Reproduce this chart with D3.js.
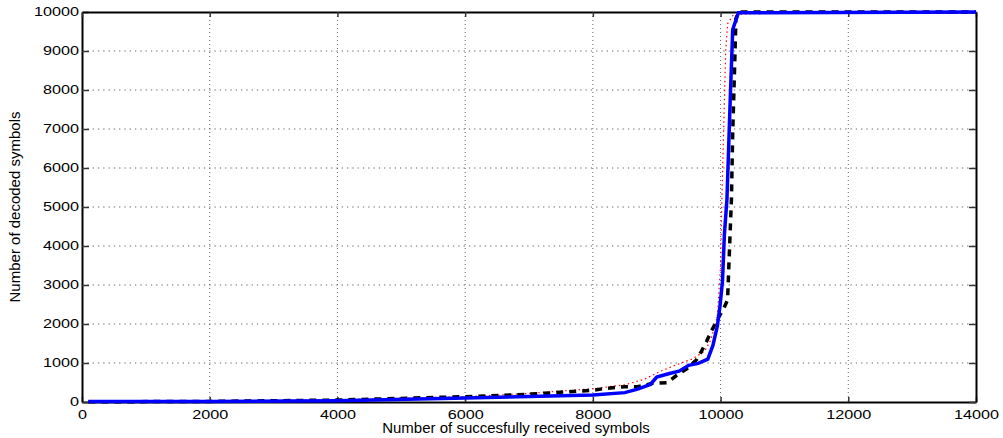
<!DOCTYPE html>
<html>
<head>
<meta charset="utf-8">
<script src="https://cdn.jsdelivr.net/npm/d3@7"></script>
<style>
  body { margin: 0; background: #fff; }
  text { font-family: "Liberation Sans", Arial, Helvetica, sans-serif; fill: #000; }
</style>
</head>
<body>
<script>
// tick values
var xTicks = [0, 2000, 4000, 6000, 8000, 10000, 12000, 14000];
var yTicks = [0, 1000, 2000, 3000, 4000, 5000, 6000, 7000, 8000, 9000, 10000];

// red dotted series
var redX = [100, 2000, 4000, 6000, 7000, 8000, 8500, 8800, 9050, 9300, 9550, 9750, 9850, 9950, 10000, 10020, 10060, 10080, 10110, 10200, 10500, 14000];
var redY = [5, 20, 60, 135, 220, 340, 440, 580, 780, 950, 1100, 1300, 1600, 2200, 3500, 5200, 7700, 9000, 9700, 9930, 9960, 9980];

// black dashed series
var blackX = [100, 2000, 4000, 6000, 7000, 8000, 8200, 8500, 8700, 8940, 9160, 9310, 9470, 9620, 9700, 9780, 9850, 9980, 10050, 10110, 10130, 10170, 10190, 10220, 10240, 10280, 14000];
var blackY = [5, 15, 50, 136, 200, 300, 350, 390, 390, 480, 495, 680, 850, 1077, 1300, 1550, 1800, 2200, 2400, 2620, 3500, 5200, 6900, 8600, 9830, 10000, 10000];

// blue solid series
var blueX = [100, 2000, 4000, 6000, 7000, 8000, 8500, 8700, 8900, 9000, 9200, 9350, 9500, 9650, 9800, 9880, 9950, 9990, 10030, 10060, 10100, 10150, 10190, 10280, 14000];
var blueY = [10, 15, 30, 100, 140, 180, 240, 330, 450, 640, 730, 790, 940, 990, 1100, 1450, 1950, 2450, 3100, 4300, 5200, 7700, 9550, 9980, 10000];

var W = 1003, H = 438;
var margin = { left: 82, top: 12, right: 27, bottom: 36 };
var w = W - margin.left - margin.right;   // 894
var h = H - margin.top - margin.bottom;   // 390

var svg = d3.select("body").append("svg")
    .attr("width", W)
    .attr("height", H);

var g = svg.append("g")
    .attr("transform", "translate(" + margin.left + "," + margin.top + ")");

var x = d3.scaleLinear().domain([0, 14000]).range([0, w]);
var y = d3.scaleLinear().domain([0, 10000]).range([h, 0]);
var fmt = d3.format("d");

// dotted grid
g.append("g").selectAll("line")
    .data(xTicks.slice(1, -1))
    .enter().append("line")
    .attr("x1", function(d) { return x(d); })
    .attr("x2", function(d) { return x(d); })
    .attr("y1", 0).attr("y2", h)
    .attr("stroke", "#666").attr("stroke-width", 1)
    .attr("stroke-dasharray", "1,3");

g.append("g").selectAll("line")
    .data(yTicks.slice(1, -1))
    .enter().append("line")
    .attr("x1", 0).attr("x2", w)
    .attr("y1", function(d) { return y(d); })
    .attr("y2", function(d) { return y(d); })
    .attr("stroke", "#666").attr("stroke-width", 1)
    .attr("stroke-dasharray", "1.3,4");

// axes (ticks pointing inward)
function styleAxis(sel) {
  sel.select(".domain").attr("stroke", "#000").attr("stroke-width", 2);
  sel.selectAll(".tick line").attr("stroke", "#333").attr("stroke-width", 1.5);
  sel.selectAll(".tick text")
      .attr("font-size", 12)
      .attr("fill", "#111")
      .attr("transform", "scale(1.35,1)");
}

g.append("g")
    .attr("transform", "translate(0," + h + ")")
    .call(d3.axisBottom(x).tickValues(xTicks).tickFormat(fmt).tickSize(-5).tickSizeOuter(0).tickPadding(8))
    .call(styleAxis);

g.append("g")
    .call(d3.axisLeft(y).tickValues(yTicks).tickFormat(fmt).tickSize(-7).tickSizeOuter(0).tickPadding(2.2))
    .call(styleAxis);

g.append("g")
    .call(d3.axisTop(x).tickValues(xTicks).tickSize(-5).tickSizeOuter(0).tickFormat(""))
    .call(styleAxis);

g.append("g")
    .attr("transform", "translate(" + w + ",0)")
    .call(d3.axisRight(y).tickValues(yTicks).tickSize(-7).tickSizeOuter(0).tickFormat(""))
    .call(styleAxis);

// series
var line = d3.line()
    .x(function(d) { return x(d[0]); })
    .y(function(d) { return y(d[1]); });

g.append("path")
    .datum(d3.zip(redX, redY))
    .attr("d", line)
    .attr("fill", "none")
    .attr("stroke", "#ff0000")
    .attr("stroke-width", 1.2)
    .attr("stroke-dasharray", "1.5,3");

g.append("path")
    .datum(d3.zip(blackX, blackY))
    .attr("d", line)
    .attr("fill", "none")
    .attr("stroke", "#000")
    .attr("stroke-width", 3.5)
    .attr("stroke-dasharray", "7,6");

g.append("path")
    .datum(d3.zip(blueX, blueY))
    .attr("d", line)
    .attr("fill", "none")
    .attr("stroke", "#0000ff")
    .attr("stroke-width", 3.5);

// axis titles
svg.append("text")
    .attr("x", margin.left + w / 2 - 13)
    .attr("y", 433)
    .attr("text-anchor", "middle")
    .attr("font-size", 15)
    .text("Number of succesfully received symbols");

svg.append("text")
    .attr("transform", "translate(20," + (margin.top + h / 2) + ") rotate(-90)")
    .attr("text-anchor", "middle")
    .attr("font-size", 15)
    .text("Number of decoded symbols");
</script>
</body>
</html>
